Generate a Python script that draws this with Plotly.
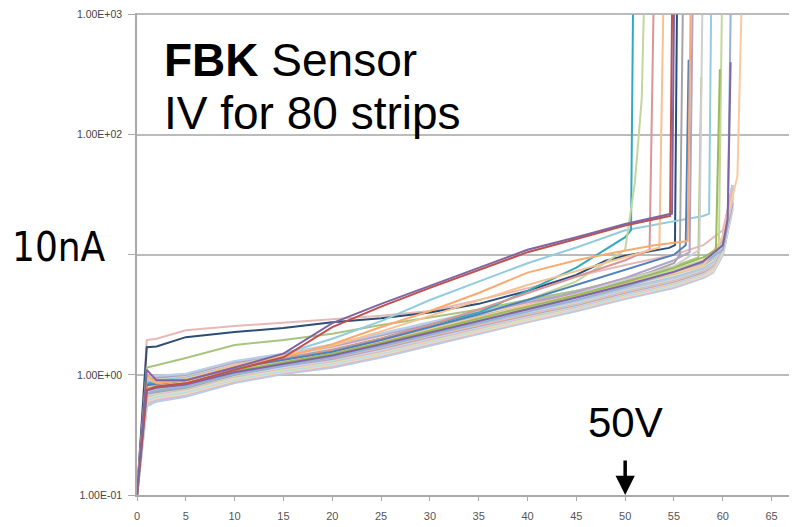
import plotly.graph_objects as go

# ---------------- data ----------------
volts = [0, 1, 2, 5, 10, 15, 20, 25, 30, 35, 40, 45, 50, 55, 58, 59, 60, 61]

# bulk band of strips (current in nA on the common voltage grid)
b01 = [0.1, 0.55, 0.60, 0.66, 0.86, 1.02, 1.15, 1.40, 1.75, 2.20, 2.75, 3.40, 4.30, 5.30, 6.40, 7.1, 10.0, 24]
b02 = [0.1, 0.58, 0.62, 0.68, 0.88, 1.04, 1.18, 1.43, 1.80, 2.25, 2.80, 3.46, 4.38, 5.40, 6.50, 7.2, 10.2, 25]
b03 = [0.1, 0.60, 0.64, 0.70, 0.90, 1.06, 1.21, 1.47, 1.85, 2.30, 2.86, 3.52, 4.46, 5.50, 6.62, 7.3, 10.5, 26]
b04 = [0.1, 0.62, 0.66, 0.72, 0.92, 1.08, 1.24, 1.50, 1.89, 2.35, 2.92, 3.58, 4.55, 5.60, 6.75, 7.5, 10.8, 27]
b05 = [0.1, 0.64, 0.68, 0.74, 0.94, 1.11, 1.27, 1.54, 1.94, 2.40, 2.98, 3.64, 4.63, 5.70, 6.86, 7.6, 11.0, 26]
b06 = [0.1, 0.66, 0.70, 0.76, 0.97, 1.14, 1.30, 1.58, 1.98, 2.46, 3.04, 3.70, 4.70, 5.80, 6.98, 7.8, 11.2, 28]
b07 = [0.1, 0.68, 0.71, 0.78, 0.99, 1.16, 1.33, 1.62, 2.02, 2.51, 3.10, 3.76, 4.78, 5.90, 7.10, 7.9, 11.5, 29]
b08 = [0.1, 0.70, 0.73, 0.80, 1.01, 1.19, 1.36, 1.66, 2.07, 2.56, 3.16, 3.82, 4.86, 6.00, 7.20, 8.1, 11.7, 27]
b09 = [0.1, 0.72, 0.75, 0.82, 1.03, 1.21, 1.39, 1.70, 2.12, 2.62, 3.22, 3.88, 4.94, 6.10, 7.32, 8.2, 12.0, 30]
b10 = [0.1, 0.74, 0.77, 0.84, 1.06, 1.24, 1.42, 1.74, 2.16, 2.67, 3.28, 3.94, 5.02, 6.20, 7.44, 8.4, 12.2, 31]
b11 = [0.1, 0.76, 0.79, 0.86, 1.08, 1.26, 1.46, 1.78, 2.21, 2.72, 3.35, 4.00, 5.10, 6.30, 7.55, 8.5, 12.4, 32]
b12 = [0.1, 0.78, 0.81, 0.88, 1.11, 1.29, 1.49, 1.82, 2.26, 2.78, 3.42, 4.08, 5.20, 6.42, 7.66, 8.7, 12.7, 30]
b13 = [0.1, 0.80, 0.83, 0.89, 1.13, 1.31, 1.52, 1.86, 2.31, 2.84, 3.50, 4.16, 5.30, 6.55, 7.78, 8.8, 12.9, 33]
b14 = [0.1, 0.82, 0.85, 0.91, 1.15, 1.34, 1.55, 1.90, 2.36, 2.90, 3.58, 4.25, 5.40, 6.66, 7.90, 9.0, 13.1, 34]
b15 = [0.1, 0.84, 0.87, 0.92, 1.18, 1.36, 1.59, 1.94, 2.42, 2.97, 3.66, 4.34, 5.50, 6.78, 8.02, 9.1, 13.3, 35]
b16 = [0.1, 0.86, 0.89, 0.94, 1.20, 1.39, 1.62, 1.99, 2.47, 3.04, 3.74, 4.44, 5.60, 6.90, 8.14, 9.3, 13.5, 33]
b17 = [0.1, 0.88, 0.91, 0.96, 1.22, 1.41, 1.66, 2.03, 2.53, 3.12, 3.83, 4.55, 5.72, 7.02, 8.26, 9.4, 13.7, 36]
b18 = [0.1, 0.90, 0.93, 0.98, 1.24, 1.44, 1.69, 2.08, 2.59, 3.20, 3.92, 4.68, 5.84, 7.14, 8.38, 9.6, 13.8, 37]
b19 = [0.1, 0.92, 0.95, 1.00, 1.27, 1.47, 1.73, 2.13, 2.66, 3.29, 4.03, 4.82, 5.96, 7.27, 8.49, 9.7, 14.0, 38]
b20 = [0.1, 0.95, 0.98, 1.02, 1.30, 1.50, 1.78, 2.20, 2.75, 3.40, 4.20, 5.00, 6.10, 7.40, 8.60, 9.8, 14.2, 38]
bulk = [b01, b02, b03, b04, b05, b06, b07, b08, b09, b10,
        b11, b12, b13, b14, b15, b16, b17, b18, b19, b20]

# individual strips (own voltage lists) - outliers and breakdowns
pink_top_v = [0, 1, 2, 5, 10, 15, 20, 25, 30, 35, 40, 45, 50, 55, 58, 60, 61]
pink_top_i = [0.1, 1.95, 2.0, 2.35, 2.55, 2.7, 2.9, 3.1, 3.4, 4.2, 5.3, 6.6, 8.2, 10, 12, 16, 35]

navy_v = [0, 1, 2, 5, 10, 15, 20, 25, 30, 35, 40, 45, 48, 50, 54.5, 55.1, 55.3]
navy_i = [0.1, 1.7, 1.72, 2.06, 2.27, 2.45, 2.74, 2.96, 3.3, 3.9, 5.0, 6.8, 8.9, 9.8, 11.4, 12, 1000]

olive_v = [0, 1, 2, 5, 10, 15, 20, 25, 30, 35, 40, 45, 50, 55, 57.5, 57.8]
olive_i = [0.1, 1.15, 1.2, 1.38, 1.77, 1.95, 2.2, 2.6, 3.0, 3.5, 4.2, 5.0, 6.3, 8, 9.5, 300]

red_v = [0, 1, 2, 5, 10, 15, 20, 25, 30, 35, 40, 45, 50, 54.6, 54.8]
red_i = [0.1, 0.75, 0.8, 0.85, 1.1, 1.4, 2.5, 3.7, 5.3, 7.5, 10.5, 13.5, 17.5, 21, 1000]

purple_v = [0, 1, 2, 5, 10, 15, 20, 25, 30, 35, 40, 45, 50, 54.8, 55.0]
purple_i = [0.1, 1.1, 0.9, 0.9, 1.15, 1.5, 2.7, 3.9, 5.5, 7.8, 11, 14, 18, 22, 1000]

ltblue_v = [0, 1, 2, 5, 10, 15, 20, 25, 30, 35, 40, 45, 50, 55, 58, 58.6, 58.8]
ltblue_i = [0.1, 0.9, 0.9, 0.95, 1.2, 1.5, 2.0, 2.8, 4.2, 6.0, 8.5, 11.5, 16, 19, 21, 22, 1000]

teal_v = [0, 1, 2, 5, 10, 15, 20, 25, 30, 35, 40, 45, 48, 50, 50.6, 50.8]
teal_i = [0.1, 0.85, 0.85, 0.9, 1.15, 1.35, 1.6, 2.0, 2.6, 3.3, 5.0, 7.8, 11, 14, 16, 1000]

ltgreen_v = [0, 1, 2, 5, 10, 15, 20, 25, 30, 35, 40, 45, 50, 51, 51.7, 51.9]
ltgreen_i = [0.1, 0.8, 0.82, 0.88, 1.12, 1.32, 1.55, 1.95, 2.5, 3.2, 4.2, 6.0, 11, 40, 200, 1000]

rose_v = [0, 1, 2, 5, 10, 15, 20, 25, 30, 35, 40, 45, 50, 52.5, 52.9]
rose_i = [0.1, 0.8, 0.85, 0.9, 1.15, 1.35, 1.6, 2.0, 2.6, 3.5, 4.8, 6.5, 9.0, 11, 1000]

peach_v = [0, 1, 2, 5, 10, 15, 20, 25, 30, 35, 40, 45, 50, 53.5, 53.9]
peach_i = [0.1, 0.95, 0.85, 0.92, 1.2, 1.45, 1.75, 2.3, 3.1, 4.2, 5.6, 7.3, 9.5, 11.5, 1000]

gray_v = [0, 1, 2, 5, 10, 15, 20, 25, 30, 35, 40, 45, 50, 55, 55.6, 55.9]
gray_i = [0.1, 0.7, 0.72, 0.78, 1.0, 1.2, 1.4, 1.75, 2.2, 2.8, 3.6, 4.6, 6.0, 8.5, 10, 1000]

lavender_v = [0, 1, 2, 5, 10, 15, 20, 25, 30, 35, 40, 45, 50, 55, 56.6, 56.9]
lavender_i = [0.1, 0.75, 0.78, 0.82, 1.05, 1.25, 1.48, 1.85, 2.35, 2.95, 3.8, 4.9, 6.4, 9, 10.5, 1000]

ltgray_v = [0, 1, 2, 5, 10, 15, 20, 25, 30, 35, 40, 45, 50, 55, 57.6, 57.9]
ltgray_i = [0.1, 0.72, 0.76, 0.8, 1.02, 1.22, 1.45, 1.8, 2.3, 2.9, 3.7, 4.7, 6.2, 8, 11, 1000]

ltgreen2_v = [0, 1, 2, 5, 10, 15, 20, 25, 30, 35, 40, 45, 50, 55, 58, 59.6, 59.9]
ltgreen2_i = [0.1, 0.78, 0.8, 0.86, 1.1, 1.3, 1.5, 1.85, 2.3, 2.85, 3.6, 4.5, 5.8, 7.5, 9, 12, 1000]

lavblue_v = [0, 1, 2, 5, 10, 15, 20, 25, 30, 35, 40, 45, 50, 55, 58, 60, 60.5, 60.8]
lavblue_i = [0.1, 0.7, 0.74, 0.8, 1.02, 1.2, 1.4, 1.72, 2.15, 2.7, 3.4, 4.2, 5.4, 7.2, 8.5, 11, 18, 1000]

peach2_v = [0, 1, 2, 5, 10, 15, 20, 25, 30, 35, 40, 45, 50, 55, 58, 60, 61, 61.5, 61.9]
peach2_i = [0.1, 0.8, 0.83, 0.88, 1.12, 1.32, 1.55, 1.9, 2.4, 3.0, 3.8, 4.6, 5.8, 7.0, 8.2, 14, 30, 45, 1000]

blue_v = [0, 1, 2, 5, 10, 15, 20, 25, 30, 35, 40, 45, 50, 55, 56.2, 56.5]
blue_i = [0.1, 0.82, 0.84, 0.9, 1.14, 1.33, 1.56, 1.95, 2.5, 3.2, 4.2, 5.6, 7.5, 10, 12, 420]

green3_v = [0, 1, 2, 5, 10, 15, 20, 25, 30, 35, 40, 45, 50, 55, 58, 59.3, 59.7]
green3_i = [0.1, 0.76, 0.8, 0.85, 1.08, 1.28, 1.5, 1.85, 2.35, 2.95, 3.7, 4.6, 5.9, 7.8, 9.5, 11, 350]

purple2_v = [0, 1, 2, 5, 10, 15, 20, 25, 30, 35, 40, 45, 50, 55, 58, 60, 60.5, 60.8]
purple2_i = [0.1, 0.74, 0.78, 0.83, 1.05, 1.24, 1.45, 1.8, 2.25, 2.8, 3.5, 4.4, 5.6, 7.2, 8.8, 12, 20, 400]

orange_v = [0, 1, 2, 5, 10, 15, 20, 25, 30, 35, 40, 45, 48.8, 53, 56.4, 56.7]
orange_i = [0.1, 1.0, 0.85, 0.9, 1.15, 1.4, 1.8, 2.5, 3.4, 4.8, 7.1, 9.0, 10.4, 12, 13, 1000]

strips = [
    (pink_top_v, pink_top_i, "#E6B9B8"),
    (navy_v, navy_i, "#2C4D75"),
    (olive_v, olive_i, "#A9C47F"),
    (ltblue_v, ltblue_i, "#93CDDD"),
    (teal_v, teal_i, "#31A9C1"),
    (ltgreen_v, ltgreen_i, "#C3D69B"),
    (rose_v, rose_i, "#D99694"),
    (peach_v, peach_i, "#FAC090"),
    (gray_v, gray_i, "#A5A5A5"),
    (lavender_v, lavender_i, "#B3A2C7"),
    (ltgray_v, ltgray_i, "#D0CECE"),
    (ltgreen2_v, ltgreen2_i, "#C3D69B"),
    (lavblue_v, lavblue_i, "#95B3D7"),
    (peach2_v, peach2_i, "#FAC9A0"),
    (blue_v, blue_i, "#4F81BD"),
    (green3_v, green3_i, "#9BBB59"),
    (purple2_v, purple2_i, "#8064A2"),
    (orange_v, orange_i, "#F9AA70"),
    (red_v, red_i, "#C0504D"),
    (purple_v, purple_i, "#8064A2"),
]

bulk_colors = ["#B9CDE5", "#CCC1DA", "#FCD5B5", "#B7DEE8", "#D7E4BD",
               "#E6B9B8", "#C6D9F1", "#B3A2C7", "#FAC090", "#A9C4E4",
               "#DDD9C3", "#B9CDE5", "#CCC1DA", "#93CDDD", "#F2DCDB",
               "#C3D69B", "#95B3D7", "#FCD5B5", "#B3A2C7", "#B9CDE5"]

x_ticks = [0, 5, 10, 15, 20, 25, 30, 35, 40, 45, 50, 55, 60, 65]
y_ticks = [0.1, 1, 10, 100, 1000]
# the 1.00E+01 label is hidden behind the "10nA" note in the original
y_ticktext = ["1.00E-01", "1.00E+00", "", "1.00E+02", "1.00E+03"]

# ---------------- figure ----------------
fig = go.Figure()

for curve, col in zip(bulk, bulk_colors):
    fig.add_trace(go.Scatter(x=volts[:len(curve)], y=curve, mode="lines",
                             line=dict(color=col, width=2.4), hoverinfo="skip"))

for v, i, col in strips:
    fig.add_trace(go.Scatter(x=v, y=i, mode="lines",
                             line=dict(color=col, width=2), hoverinfo="skip"))

# page body has an 8px margin; figure sized so the plot lands at the right place
fig.update_layout(
    width=789, height=519,
    margin=dict(l=129, r=0, t=5, b=32, autoexpand=False),
    paper_bgcolor="white", plot_bgcolor="white",
    showlegend=False,
    font=dict(family="Liberation Sans, Arial, sans-serif", color="#444"),
    xaxis=dict(range=[0, 67.6], tickvals=x_ticks, ticks="outside", ticklen=4,
               tickcolor="#AAAAAA", showline=True, linecolor="#AAAAAA", linewidth=1.5,
               showgrid=False, zeroline=False, automargin=False, ticklabelstandoff=6,
               tickfont=dict(size=11, color="#555")),
    yaxis=dict(type="log", range=[-1, 3.012], tickvals=y_ticks, ticktext=y_ticktext,
               ticks="outside", ticklen=7, tickcolor="#AAAAAA", showline=True,
               linecolor="#AAAAAA", linewidth=1.5, showgrid=True, gridcolor="#BBBBBB",
               gridwidth=1.5, zeroline=False, automargin=False, ticklabelstandoff=4,
               ticklabeloverflow="allow", tickfont=dict(size=10.5, color="#444")),
)

fig.add_annotation(xref="paper", yref="paper", x=0.038, y=0.903, xanchor="left",
                   yanchor="middle", showarrow=False, text="<b>FBK</b> Sensor",
                   font=dict(family="Liberation Sans, Arial", size=46, color="black"))
fig.add_annotation(xref="paper", yref="paper", x=0.038, y=0.793, xanchor="left",
                   yanchor="middle", showarrow=False, text="IV for 80 strips",
                   font=dict(family="Liberation Sans, Arial", size=46, color="black"))
fig.add_annotation(xref="paper", yref="paper", x=-0.118, y=0.514, xanchor="center",
                   yanchor="middle", showarrow=False, text="10nA",
                   font=dict(family="DejaVu Sans Condensed, DejaVu Sans", size=40,
                             color="black"))
fig.add_annotation(xref="x", yref="paper", x=50, y=0.151, xanchor="center",
                   yanchor="middle", showarrow=False, text="50V",
                   font=dict(family="Liberation Sans, Arial", size=42, color="black"))
fig.add_annotation(xref="x", yref="y", x=50, y=-1, ax=0, ay=-36, text="",
                   showarrow=True, arrowhead=2, arrowsize=1.1, arrowwidth=3.5,
                   arrowcolor="black")

fig.write_html("out.html")
